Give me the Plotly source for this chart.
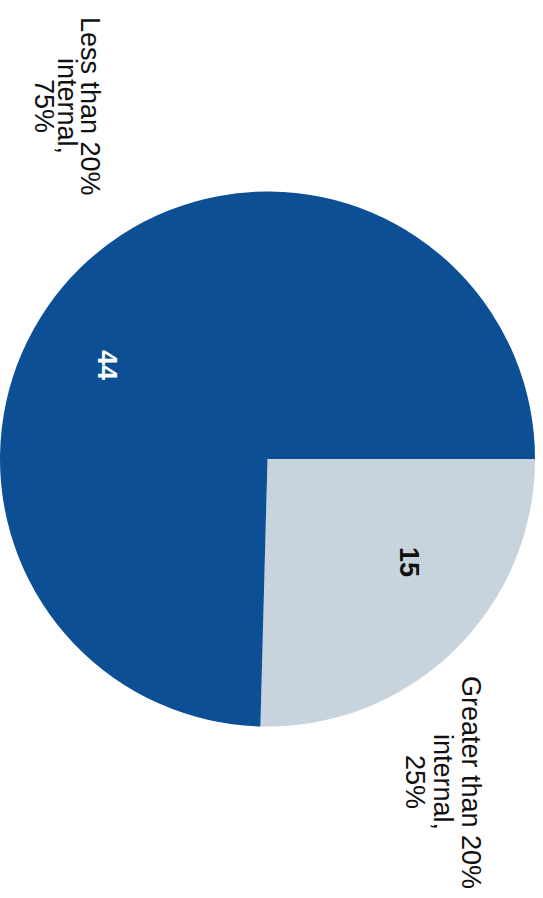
import plotly.graph_objects as go

W, H = 543, 898
categories = ["Greater than 20% internal", "Less than 20% internal"]
values = [15, 44]
label_lines = [["Greater than 20%", "internal,", "25%"], ["Less than 20%", "internal,", "75%"]]
colors = ["#c7d4de", "#0c4f94"]
value_font_colors = ["#111111", "#ffffff"]

fig = go.Figure()
fig.add_trace(go.Pie(
    labels=categories, values=values, sort=False, direction="clockwise", rotation=90,
    marker=dict(colors=colors, line=dict(width=0)), textinfo="none", hoverinfo="label+value",
    domain=dict(x=[0, 535 / W], y=[1 - (459 + 270) / H, 1 - (459 - 270) / H]),
    showlegend=False,
))

def px(x, y):
    return x / W, 1 - y / H

anns = []
# outside labels, rotated 90° clockwise; one annotation per line
label_pos = [[(471, 782), (443, 782), (415, 782)], [(90, 106), (67, 106), (44, 106)]]
for lines, poss in zip(label_lines, label_pos):
    for t, (x, y) in zip(lines, poss):
        xx, yy = px(x, y)
        anns.append(dict(text=t, x=xx, y=yy, xref="paper", yref="paper", showarrow=False,
                         textangle=90, xanchor="center", yanchor="middle",
                         font=dict(family="Liberation Sans, Arial", size=27, color="#111111")))
# value labels inside slices
value_pos = [(409, 562), (107, 365)]
for v, (x, y), c in zip(values, value_pos, value_font_colors):
    xx, yy = px(x, y)
    anns.append(dict(text=f"<b>{v}</b>", x=xx, y=yy, xref="paper", yref="paper", showarrow=False,
                     textangle=90, xanchor="center", yanchor="middle",
                     font=dict(family="Liberation Sans, Arial", size=27, color=c)))

fig.update_layout(width=W, height=H, margin=dict(l=0, r=0, t=0, b=0),
                  paper_bgcolor="white", plot_bgcolor="white", annotations=anns)
fig.write_html("out.html")
